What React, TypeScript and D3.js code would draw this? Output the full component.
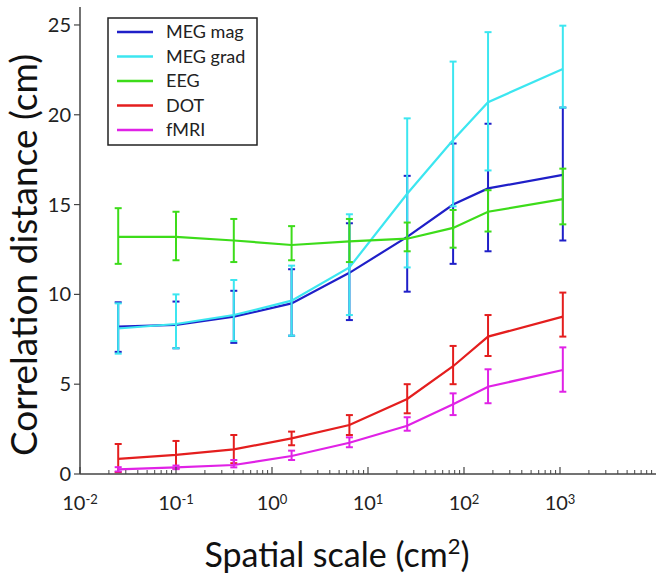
import React, { useEffect } from "react";
import * as d3 from "d3";

// ---- data ----
const xValues = [0.025, 0.1, 0.4, 1.6, 6.4, 25.6, 77, 178, 1070];

const megMag = [8.2, 8.3, 8.76, 9.5, 11.2, 13.2, 15.0, 15.9, 16.65];
const megMagLo = [6.8, 7.0, 7.3, 7.7, 8.57, 10.15, 11.7, 12.4, 13.0];
const megMagHi = [9.56, 9.6, 10.2, 11.4, 13.96, 16.6, 18.4, 19.5, 20.4];

const megGrad = [8.1, 8.35, 8.85, 9.65, 11.5, 15.6, 18.6, 20.7, 22.55];
const megGradLo = [6.7, 7.0, 7.4, 7.7, 8.85, 11.5, 14.9, 16.9, 20.4];
const megGradHi = [9.5, 10.0, 10.8, 11.6, 14.46, 19.8, 22.96, 24.6, 24.96];

const eeg = [13.2, 13.2, 13.0, 12.75, 12.95, 13.1, 13.7, 14.6, 15.3];
const eegLo = [11.7, 11.9, 11.8, 11.9, 11.8, 12.4, 12.6, 13.5, 13.9];
const eegHi = [14.8, 14.6, 14.2, 13.8, 14.2, 14.0, 14.7, 15.8, 17.0];

const dot = [0.84, 1.06, 1.37, 1.98, 2.73, 4.18, 6.0, 7.65, 8.76];
const dotLo = [0.1, 0.3, 0.6, 1.6, 2.17, 3.38, 5.0, 6.57, 7.65];
const dotHi = [1.67, 1.84, 2.17, 2.36, 3.28, 5.0, 7.13, 8.85, 10.1];

const fmri = [0.26, 0.37, 0.5, 1.0, 1.74, 2.69, 3.88, 4.86, 5.79];
const fmriLo = [0.14, 0.27, 0.37, 0.78, 1.49, 2.41, 3.28, 3.94, 4.58];
const fmriHi = [0.38, 0.47, 0.78, 1.3, 2.04, 3.16, 4.49, 5.83, 7.05];

const seriesNames = ["MEG mag", "MEG grad", "EEG", "DOT", "fMRI"];
const seriesColors = ["#1f1fc8", "#3ce6f0", "#3ddc1a", "#e41e1e", "#e022e6"];
const seriesMeans = [megMag, megGrad, eeg, dot, fmri];
const seriesLows = [megMagLo, megGradLo, eegLo, dotLo, fmriLo];
const seriesHighs = [megMagHi, megGradHi, eegHi, dotHi, fmriHi];

const yTicks = [0, 5, 10, 15, 20, 25];
const xTickExps = [-2, -1, 0, 1, 2, 3];

const W = 664;
const H = 583;
const margin = { left: 80, right: 8, top: 7, bottom: 109 };
const FONT = "Lato, 'Open Sans', sans-serif";

export default function App() {
  useEffect(() => {
    document.body.style.margin = "0";
  }, []);

  const x = d3
    .scaleLog()
    .domain([1e-2, 1e4])
    .range([margin.left, W - margin.right]);
  const y = d3
    .scaleLinear()
    .domain([0, 26])
    .range([H - margin.bottom, margin.top]);

  const line = d3
    .line<number>()
    .x((_, i) => x(xValues[i]))
    .y((d) => y(d));

  const axisColor = "#444";
  const x0 = x.range()[0];
  const y0 = y.range()[0];

  // minor ticks
  const minorTicks: number[] = [];
  for (let e = -2; e < 4; e++) {
    for (let m = 2; m <= 9; m++) minorTicks.push(m * Math.pow(10, e));
  }

  const capW = 3.5;

  return (
    <svg width={W} height={H} style={{ display: "block", background: "#fff" }}>
      {/* series */}
      {seriesMeans.map((vals, si) => (
        <g key={si}>
          <path
            d={line(vals) || ""}
            fill="none"
            stroke={seriesColors[si]}
            strokeWidth={2.2}
          />
          {vals.map((_, i) => {
            const cx = x(xValues[i]);
            const lo = y(seriesLows[si][i]);
            const hi = y(seriesHighs[si][i]);
            return (
              <g key={i} stroke={seriesColors[si]} strokeWidth={2}>
                <line x1={cx} x2={cx} y1={lo} y2={hi} />
                <line x1={cx - capW} x2={cx + capW} y1={lo} y2={lo} />
                <line x1={cx - capW} x2={cx + capW} y1={hi} y2={hi} />
              </g>
            );
          })}
        </g>
      ))}

      {/* axes */}
      <line x1={x0} x2={x0} y1={y.range()[1]} y2={y0} stroke={axisColor} strokeWidth={1.5} />
      <line x1={x0} x2={x.range()[1]} y1={y0} y2={y0} stroke={axisColor} strokeWidth={1.5} />
      {yTicks.map((t) => (
        <g key={t}>
          <line x1={x0 - 6} x2={x0} y1={y(t)} y2={y(t)} stroke={axisColor} strokeWidth={1.2} />
          <text
            x={x0 - 9}
            y={y(t)}
            dy="0.35em"
            textAnchor="end"
            fontFamily={FONT}
            fontSize={20}
            fill="#222"
          >
            {t}
          </text>
        </g>
      ))}
      {minorTicks.map((t, i) => (
        <line key={i} x1={x(t)} x2={x(t)} y1={y0} y2={y0 - 4} stroke={axisColor} strokeWidth={1} />
      ))}
      {xTickExps.map((e) => (
        <g key={e}>
          <line x1={x(Math.pow(10, e))} x2={x(Math.pow(10, e))} y1={y0} y2={y0 - 7} stroke={axisColor} strokeWidth={1.2} />
          <text
            x={x(Math.pow(10, e))}
            y={y0 + 36}
            textAnchor="middle"
            fontFamily={FONT}
            fontSize={20}
            fill="#222"
          >
            10
            <tspan fontSize={13} dy={-6}>
              {String(e)}
            </tspan>
          </text>
        </g>
      ))}

      {/* axis titles */}
      <text
        transform={`translate(37, 255) rotate(-90)`}
        textAnchor="middle"
        fontFamily={FONT}
        fontSize={37}
        fill="#111"
      >
        Correlation distance (cm)
      </text>
      <text
        x={337}
        y={567}
        textAnchor="middle"
        fontFamily={FONT}
        fontSize={34}
        fill="#111"
      >
        Spatial scale (cm
        <tspan fontSize={22} dy={-13}>
          2
        </tspan>
        <tspan dy={13}>)</tspan>
      </text>

      {/* legend */}
      <g>
        <rect x={108} y={18} width={149} height={127} fill="#fff" stroke="#222" strokeWidth={1.5} />
        {seriesNames.map((name, i) => {
          const ly = 32 + i * 24.5;
          return (
            <g key={name}>
              <line x1={117} x2={153} y1={ly} y2={ly} stroke={seriesColors[i]} strokeWidth={2.5} />
              <text x={166} y={ly} dy="0.35em" fontFamily={FONT} fontSize={18} fill="#222">
                {name}
              </text>
            </g>
          );
        })}
      </g>
    </svg>
  );
}
